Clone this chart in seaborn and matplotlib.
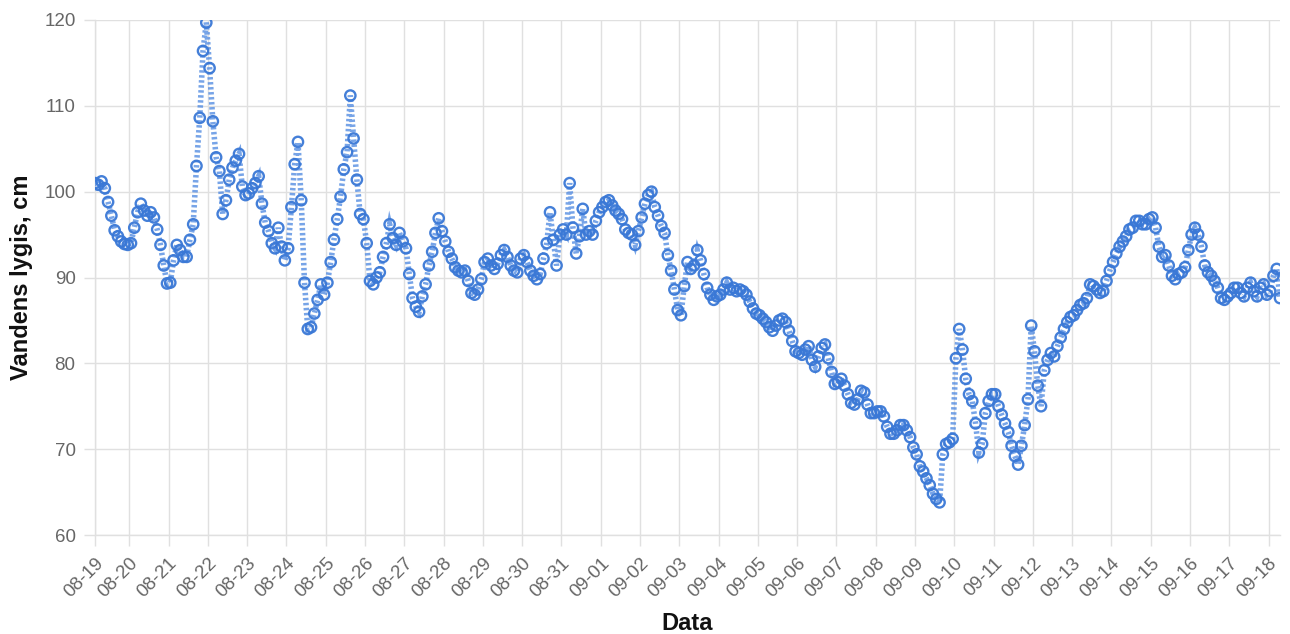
import numpy as np
import pandas as pd
import matplotlib
matplotlib.use("Agg")
import matplotlib.pyplot as plt
import seaborn as sns

# ---------------- data (2-hourly readings, cm) ----------------
start_time = "2021-08-19 03:00"
step = "2h"

week1 = [  # 08-19 .. 08-25
    101.0, 100.8, 101.2, 100.4, 98.8, 97.2, 95.5, 94.8, 94.2, 93.9, 93.8,
    94.0, 95.8, 97.6, 98.6, 97.8, 97.2, 97.6, 97.0, 95.6, 93.8, 91.4, 89.3,
    89.4, 92.0, 93.8, 93.2, 92.4, 92.4, 94.4, 96.2, 103.0, 108.6, 116.4, 119.7,
    114.4, 108.2, 104.0, 102.4, 97.4, 99.0, 101.4, 102.8, 103.6, 104.4, 100.6, 99.6,
    99.8, 100.4, 101.0, 101.8, 98.6, 96.4, 95.4, 94.0, 93.4, 95.8, 93.6, 92.0,
    93.4, 98.2, 103.2, 105.8, 99.0, 89.4, 84.0, 84.2, 85.8, 87.4, 89.2, 88.0,
    89.4, 91.8, 94.4, 96.8, 99.4, 102.6, 104.6, 111.2, 106.2, 101.4, 97.4, 96.8,
]
week2 = [  # 08-26 .. 09-01
    94.0, 89.6, 89.2, 90.0, 90.6, 92.4, 94.0, 96.2, 94.6, 93.8, 95.2, 94.2,
    93.4, 90.4, 87.6, 86.6, 86.0, 87.8, 89.2, 91.4, 93.0, 95.2, 96.9, 95.4,
    94.2, 93.0, 92.2, 91.2, 90.8, 90.6, 90.8, 89.6, 88.2, 88.0, 88.6, 89.8,
    91.8, 92.2, 91.4, 91.0, 91.6, 92.6, 93.2, 92.4, 91.4, 90.8, 90.6, 92.2,
    92.6, 91.8, 90.8, 90.2, 89.8, 90.4, 92.2, 94.0, 97.6, 94.4, 91.4, 95.0,
    95.6, 95.0, 101.0, 95.8, 92.8, 94.8, 98.0, 95.0, 95.4, 95.0, 96.6, 97.6,
    98.2, 98.8, 99.0, 98.4, 97.8, 97.4, 96.8, 95.6, 95.2, 95.0, 93.8, 95.4,
]
week3 = [  # 09-02 .. 09-08
    97.0, 98.6, 99.6, 100.0, 98.2, 97.2, 96.0, 95.2, 92.6, 90.8, 88.6, 86.2,
    85.6, 89.0, 91.8, 91.0, 91.4, 93.2, 92.0, 90.4, 88.8, 88.0, 87.4, 87.8,
    88.0, 88.6, 89.4, 88.6, 88.8, 88.4, 88.6, 88.4, 88.0, 87.2, 86.4, 85.8,
    85.6, 85.2, 84.8, 84.2, 83.8, 84.4, 85.0, 85.2, 84.8, 83.8, 82.6, 81.4,
    81.2, 81.0, 81.6, 82.0, 80.4, 79.6, 80.8, 81.8, 82.2, 80.6, 79.0, 77.6,
    77.8, 78.2, 77.4, 76.4, 75.4, 75.2, 75.8, 76.8, 76.6, 75.2, 74.2, 74.2,
    74.4, 74.4, 73.8, 72.6, 71.8, 71.8, 72.2, 72.8, 72.8, 72.2, 71.4, 70.2,
]
week4 = [  # 09-09 .. 09-15
    69.4, 68.0, 67.4, 66.6, 65.8, 64.8, 64.2, 63.8, 69.4, 70.6, 70.8, 71.2,
    80.6, 84.0, 81.6, 78.2, 76.4, 75.6, 73.0, 69.6, 70.6, 74.2, 75.6, 76.4,
    76.4, 75.0, 74.0, 73.0, 72.0, 70.4, 69.2, 68.2, 70.4, 72.8, 75.8, 84.4,
    81.4, 77.4, 75.0, 79.2, 80.4, 81.2, 80.8, 82.0, 83.0, 84.0, 84.8, 85.4,
    85.6, 86.2, 86.8, 87.0, 87.6, 89.2, 89.0, 88.6, 88.2, 88.4, 89.6, 90.8,
    91.8, 92.8, 93.6, 94.2, 94.8, 95.6, 95.8, 96.6, 96.6, 96.2, 96.2, 96.8,
    97.0, 95.8, 93.6, 92.4, 92.6, 91.4, 90.2, 89.8, 90.4, 90.6, 91.2, 93.2,
]
week5 = [  # 09-16 .. 09-18
    95.0, 95.8, 95.0, 93.6, 91.4, 90.6, 90.2, 89.6, 88.8, 87.6, 87.4, 87.8,
    88.2, 88.8, 88.8, 88.2, 87.8, 88.8, 89.4, 88.4, 87.8, 88.8, 89.2, 88.0,
    88.4, 90.2, 91.0, 87.6,
]

day_labels = ["08-19", "08-20", "08-21", "08-22", "08-23", "08-24", "08-25",
              "08-26", "08-27", "08-28", "08-29", "08-30", "08-31", "09-01",
              "09-02", "09-03", "09-04", "09-05", "09-06", "09-07", "09-08",
              "09-09", "09-10", "09-11", "09-12", "09-13", "09-14", "09-15",
              "09-16", "09-17", "09-18"]
y_ticks = [60, 70, 80, 90, 100, 110, 120]
x_title = "Data"
y_title = "Vandens lygis, cm"

# ---------------- build frame ----------------
levels = week1 + week2 + week3 + week4 + week5
times = pd.date_range(start_time, periods=len(levels), freq=step)
df = pd.DataFrame({"Data": times, "Lygis": levels})

blue = "#3a78d6"
line_blue = "#4a86e0"
grid_c = "#e0e0e0"
tick_c = "#666666"

sns.set_theme(style="white")
plt.rcParams["font.family"] = ["Liberation Sans", "DejaVu Sans"]

W, H = 1290, 634
fig = plt.figure(figsize=(W / 100, H / 100), dpi=100)
L, R, T, B = 95, 1280, 20, 535
ax = fig.add_axes([L / W, 1 - B / H, (R - L) / W, (B - T) / H])

sns.lineplot(data=df, x="Data", y="Lygis", ax=ax, color=line_blue, linewidth=4.0,
             alpha=0.75, linestyle=(0, (0.45, 0.45)), dash_joinstyle="miter",
             zorder=3)
sns.scatterplot(data=df, x="Data", y="Lygis", ax=ax, color=blue,
                facecolor="none", edgecolor=blue, linewidth=1.7, s=55,
                alpha=0.95, zorder=4)

# axes
x0, x1 = times[0], times[-1]
ax.set_xlim(x0, x1)
ax.set_ylim(y_ticks[0], y_ticks[-1])
day_ticks = [x0] + list(pd.date_range(pd.Timestamp(x0).normalize() + pd.Timedelta(days=1),
                                      periods=len(day_labels) - 1, freq="D"))
ax.set_xticks(day_ticks)
ax.set_xticklabels(day_labels, rotation=45, ha="right", rotation_mode="anchor")
ax.set_yticks(y_ticks)
ax.set_yticklabels([str(v) for v in y_ticks])

ax.grid(True, color=grid_c, linewidth=1.0, zorder=0)
for s in ["top", "right"]:
    ax.spines[s].set_visible(False)
for s in ["left", "bottom"]:
    ax.spines[s].set_color(grid_c)
    ax.spines[s].set_linewidth(1.0)
ax.tick_params(axis="both", which="major", length=8, width=1.0, color=grid_c,
               labelcolor=tick_c, labelsize=13.5, bottom=True, left=True)
ax.tick_params(axis="x", pad=6)
ax.tick_params(axis="y", pad=6)

ax.set_xlabel(x_title, fontsize=17, fontweight="bold", color="#111111", labelpad=8)
ax.set_ylabel(y_title, fontsize=17, fontweight="bold", color="#111111", labelpad=8)

fig.savefig("out.png", dpi=100)
